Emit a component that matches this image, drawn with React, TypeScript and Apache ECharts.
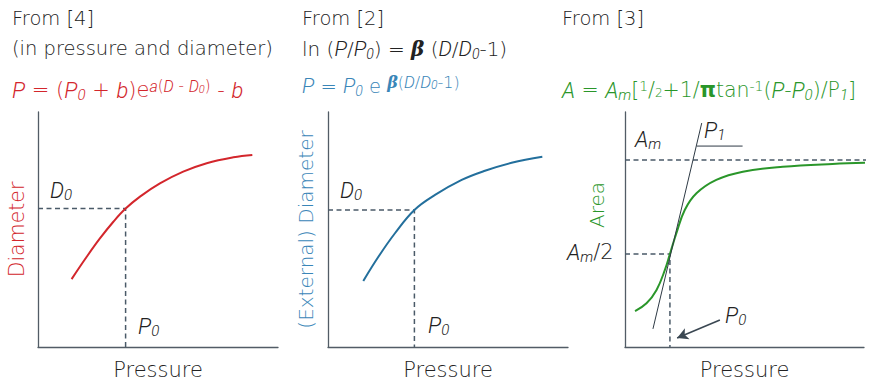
import React, { useEffect, useRef } from 'react';
import * as echarts from 'echarts';

// ---- data (arbitrary units, axes span 0..10) ----
const axisMin = 0;
const axisMax = 10;

// Panel 1 (red): exponential P–D relation from [4]
const redCurve: number[][] = [
  [1.40, 2.89], [2.03, 3.84], [2.58, 4.62], [3.14, 5.33], [3.65, 5.89], [4.25, 6.40],
  [5.08, 6.96], [6.05, 7.46], [7.03, 7.82], [8.14, 8.07], [8.93, 8.17],
];
const redRef: number[] = [3.65, 5.89]; // (P0, D0)

// Panel 2 (blue): from [2]
const blueCurve: number[][] = [
  [1.47, 2.81], [2.10, 3.84], [2.79, 4.84], [3.60, 5.83], [4.46, 6.47], [5.57, 7.11],
  [6.54, 7.50], [7.65, 7.84], [8.93, 8.10],
];
const blueRef: number[] = [3.60, 5.83];

// Panel 3 (green): arctangent area model from [3]
const greenCurve: number[][] = [
  [0.42, 1.53], [0.90, 1.86], [1.32, 2.43], [1.67, 3.28], [1.88, 3.96], [2.15, 4.84],
  [2.50, 5.83], [2.99, 6.54], [3.82, 7.11], [4.93, 7.46], [6.60, 7.67], [8.68, 7.79], [10.76, 7.86],
];
const greenAm: number = 7.96;
const greenAmEnd: number = 10.8;
const greenHalf: number[] = [1.88, 3.96]; // (P0, Am/2)
const tangentLine: number[][] = [[1.17, 0.77], [3.21, 9.53]];
const p1Bar: number[][] = [[3.0, 8.55], [4.92, 8.55]];
const arrowLine: number[][] = [[3.97, 1.15], [2.18, 0.38]];

// ---- styles ----
const FONT = "'DejaVu Sans', sans-serif";
const FONT_IT = "Roboto, 'DejaVu Sans', sans-serif";
const WEIGHT = 200;
const WEIGHT_IT = 300;
const INK = '#222222';
const RED = '#d3262c';
const BLUE_TEXT = '#3a86b8';
const BLUE = '#236f9c';
const GREEN = '#2a962a';
const DASH = '#4a5a68';
const AXIS = '#525c66';
const DASH_TYPE = [5, 3.5];

function richFor(base: number, color: string, sup: number) {
  const mk = (o: any) => ({ fontFamily: FONT, fontWeight: WEIGHT, fill: color, ...o });
  const it = (o: any) => ({ fontFamily: FONT_IT, fontWeight: WEIGHT_IT, fontStyle: 'italic', fill: color, ...o });
  const sub = Math.round(base * 0.72);
  return {
    n: mk({ fontSize: base }),
    i: it({ fontSize: base + 1 }),
    s: it({ fontSize: sub, padding: [10, 0, 0, 0] }),
    ss: mk({ fontSize: 12, padding: [6, 0, 0, 0] }),
    u: it({ fontSize: sup + 1, padding: [0, 0, 8, 0] }),
    uu: mk({ fontSize: sup, padding: [0, 0, 8, 0] }),
    us: it({ fontSize: Math.round(sup * 0.75), padding: [0, 0, 2, 0] }),
    b: { fontFamily: "'DejaVu Serif', serif", fontWeight: 'bold', fontStyle: 'italic', fontSize: base, fill: color },
    ub: { fontFamily: "'DejaVu Serif', serif", fontWeight: 'bold', fontStyle: 'italic', fontSize: sup, fill: color, padding: [0, 0, 8, 0] },
    pi: { fontFamily: "'DejaVu Sans', sans-serif", fontWeight: 'bold', fontSize: base, fill: color },
  };
}

function txt(x: number, y: number, text: string, color: string, size: number, sup: number = 13) {
  return {
    type: 'text',
    x,
    y,
    silent: true,
    style: {
      text,
      fill: color,
      fontSize: size,
      fontFamily: FONT,
      fontWeight: WEIGHT,
      verticalAlign: 'middle',
      align: 'left',
      rich: richFor(size, color, sup),
    },
  };
}

export default function App() {
  const ref = useRef<HTMLDivElement>(null);

  useEffect(() => {
    if (!ref.current) return;
    const chart = echarts.init(ref.current, null, { renderer: 'svg' });

    const grids = [
      { left: 38, top: 112, width: 240, height: 235 },
      { left: 328, top: 112, width: 240, height: 235 },
      { left: 625, top: 112, width: 239, height: 235 },
    ];
    const axisCommon = {
      type: 'value',
      min: axisMin,
      max: axisMax,
      axisLine: { show: true, onZero: false, lineStyle: { color: AXIS, width: 1.3 } },
      axisTick: { show: false },
      axisLabel: { show: false },
      splitLine: { show: false },
    };
    const nameStyle = (color: string, size: number) => ({ color, fontSize: size, fontFamily: FONT, fontWeight: WEIGHT });

    const xAxis = [0, 1, 2].map((g) => ({
      ...axisCommon,
      gridIndex: g,
      name: 'Pressure',
      nameLocation: 'middle',
      nameGap: 12,
      nameTextStyle: nameStyle(INK, 21),
    }));
    const yAxis = [
      { ...axisCommon, gridIndex: 0, name: 'Diameter', nameLocation: 'middle', nameGap: 11, nameTextStyle: nameStyle(RED, 20.5) },
      { ...axisCommon, gridIndex: 1, name: '(External) Diameter', nameLocation: 'middle', nameGap: 12, nameTextStyle: nameStyle(BLUE_TEXT, 20) },
      { ...axisCommon, gridIndex: 2 },
    ];

    const base = { type: 'line', symbol: 'none', silent: true, animation: false, z: 3 };
    const dashed = { color: DASH, width: 1.5, type: DASH_TYPE };
    const series: any[] = [
      { ...base, xAxisIndex: 0, yAxisIndex: 0, data: redCurve, smooth: 0.4, lineStyle: { color: RED, width: 2 } },
      { ...base, xAxisIndex: 0, yAxisIndex: 0, data: [[axisMin, redRef[1]], redRef, [redRef[0], axisMin]], lineStyle: dashed, z: 2 },
      { ...base, xAxisIndex: 1, yAxisIndex: 1, data: blueCurve, smooth: 0.4, lineStyle: { color: BLUE, width: 2 } },
      { ...base, xAxisIndex: 1, yAxisIndex: 1, data: [[axisMin, blueRef[1]], blueRef, [blueRef[0], axisMin]], lineStyle: dashed, z: 2 },
      { ...base, xAxisIndex: 2, yAxisIndex: 2, data: greenCurve, smooth: 0.4, clip: false, lineStyle: { color: GREEN, width: 2 } },
      { ...base, xAxisIndex: 2, yAxisIndex: 2, data: [[axisMin, greenAm], [greenAmEnd, greenAm]], clip: false, lineStyle: dashed, z: 2 },
      { ...base, xAxisIndex: 2, yAxisIndex: 2, data: [[axisMin, greenHalf[1]], greenHalf, [greenHalf[0], axisMin]], lineStyle: dashed, z: 2 },
      { ...base, xAxisIndex: 2, yAxisIndex: 2, data: tangentLine, clip: false, lineStyle: { color: '#2e3a45', width: 1 }, z: 4 },
      {
        ...base, xAxisIndex: 2, yAxisIndex: 2, data: p1Bar, clip: false, lineStyle: { color: '#2e3a45', width: 1 }, z: 4,
        markLine: {
          silent: true,
          animation: false,
          symbol: ['none', 'arrow'],
          symbolSize: [9, 11],
          label: { show: false },
          emphasis: { disabled: true },
          lineStyle: { color: '#3a4752', width: 1.6, type: 'solid' },
          data: [[{ coord: arrowLine[0] }, { coord: arrowLine[1] }]],
        },
      },
    ];

    const graphic: any[] = [
      txt(12, 18.5, 'From [4]', INK, 19.5),
      txt(12, 48.5, '(in pressure and diameter)', INK, 19.5),
      txt(12, 90, '{i|P} = ({i|P}{s|0} + {i|b})e{u|a}{uu|(}{u|D}{uu| - }{u|D}{us|0}{uu|)} - {i|b}', RED, 21, 15),
      txt(302, 18.5, 'From [2]', INK, 19.5),
      txt(302, 48.5, 'ln ({i|P}/{i|P}{s|0}) = {b|β} ({i|D}/{i|D}{s|0}-1)', INK, 20),
      txt(302, 86, '{i|P} = {i|P}{s|0} e {ub|β}{uu|(}{u|D}{uu|/}{u|D}{us|0}{uu|-1)}', BLUE_TEXT, 19.5, 16),
      txt(562, 18.5, 'From [3]', INK, 19.5),
      txt(562, 90, '{i|A} = {i|A}{s|m}[{uu|1}/{ss|2}+1/{pi|π}tan{uu|-1}({i|P}-{i|P}{s|0})/P{s|1}]', GREEN, 20.5, 14),
      txt(50, 190, '{i|D}{s|0}', INK, 21),
      txt(138, 326, '{i|P}{s|0}', INK, 21),
      txt(340, 190, '{i|D}{s|0}', INK, 21),
      txt(428, 325, '{i|P}{s|0}', INK, 21),
      txt(635, 139, '{i|A}{s|m}', INK, 21),
      txt(704, 130, '{i|P}{s|1}', INK, 21),
      txt(567, 252, '{i|A}{s|m}/2', INK, 21),
      txt(725, 315, '{i|P}{s|0}', INK, 21),
      {
        type: 'text',
        x: 597,
        y: 205,
        rotation: Math.PI / 2,
        silent: true,
        style: { text: 'Area', fill: GREEN, fontSize: 20, fontFamily: FONT, fontWeight: WEIGHT, align: 'center', verticalAlign: 'middle' },
      },
    ];

    chart.setOption({
      animation: false,
      backgroundColor: '#ffffff',
      grid: grids,
      xAxis,
      yAxis,
      series,
      graphic,
    });

    return () => chart.dispose();
  }, []);

  return (
    <div
      ref={ref}
      style={{ position: 'absolute', left: 0, top: 0, width: 885, height: 387 }}
    />
  );
}
